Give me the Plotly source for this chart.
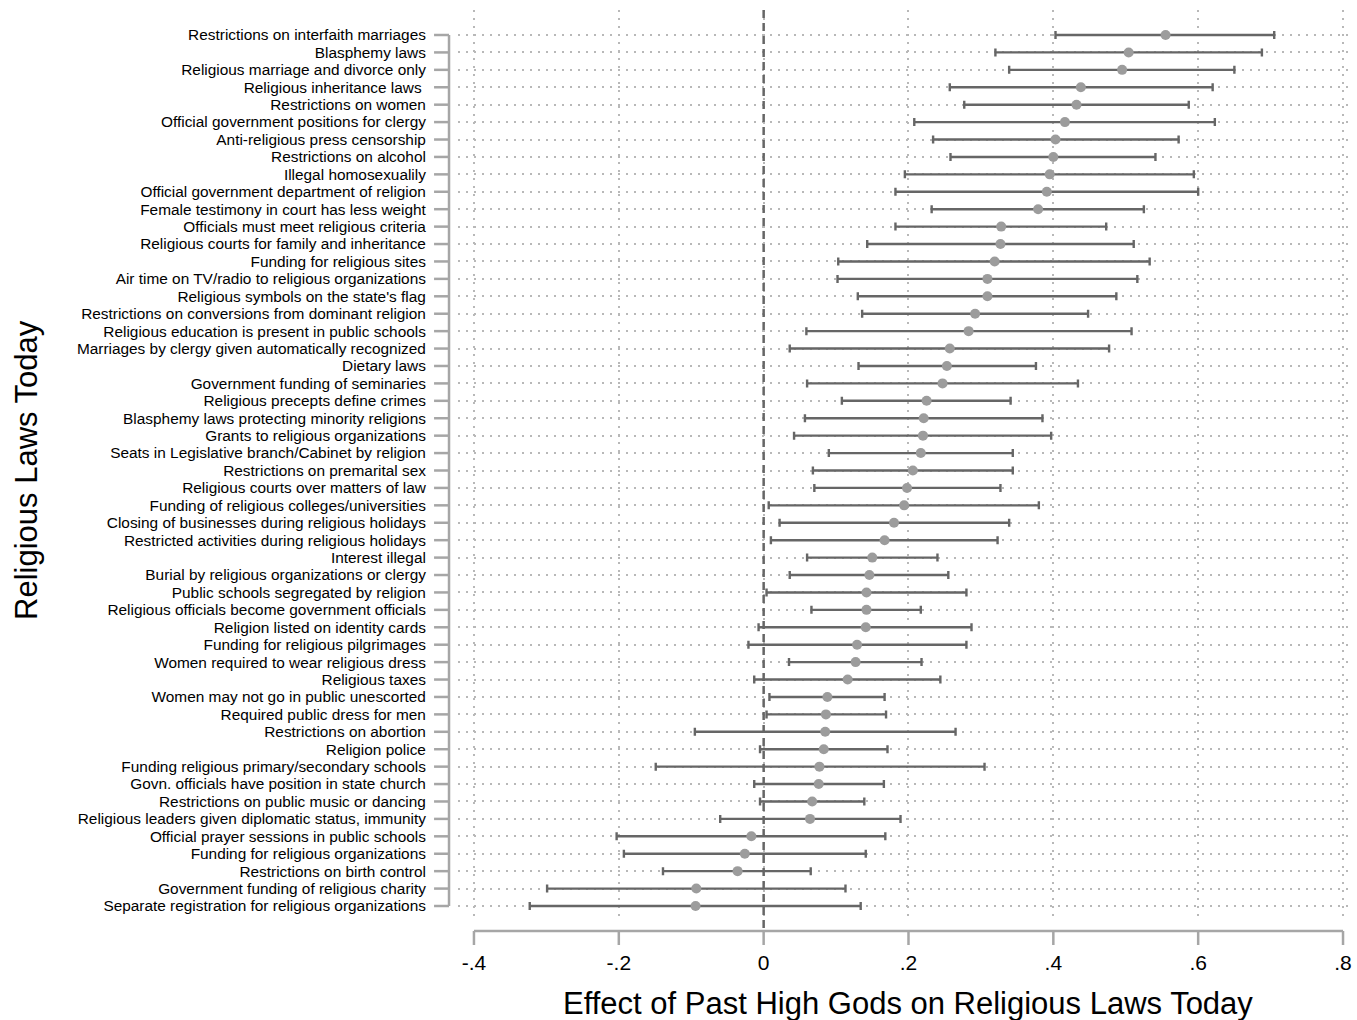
import plotly.graph_objects as go

laws = [
    "Restrictions on interfaith marriages",
    "Blasphemy laws",
    "Religious marriage and divorce only",
    "Religious inheritance laws\u00a0",
    "Restrictions on women",
    "Official government positions for clergy",
    "Anti-religious press censorship",
    "Restrictions on alcohol",
    "Illegal homosexualily",
    "Official government department of religion",
    "Female testimony in court has less weight",
    "Officials must meet religious criteria",
    "Religious courts for family and inheritance",
    "Funding for religious sites",
    "Air time on TV/radio to religious organizations",
    "Religious symbols on the state's flag",
    "Restrictions on conversions from dominant religion",
    "Religious education is present in public schools",
    "Marriages by clergy given automatically recognized",
    "Dietary laws",
    "Government funding of seminaries",
    "Religious precepts define crimes",
    "Blasphemy laws protecting minority religions",
    "Grants to religious organizations",
    "Seats in Legislative branch/Cabinet by religion",
    "Restrictions on premarital sex",
    "Religious courts over matters of law",
    "Funding of religious colleges/universities",
    "Closing of businesses during religious holidays",
    "Restricted activities during religious holidays",
    "Interest illegal",
    "Burial by religious organizations or clergy",
    "Public schools segregated by religion",
    "Religious officials become government officials",
    "Religion listed on identity cards",
    "Funding for religious pilgrimages",
    "Women required to wear religious dress",
    "Religious taxes",
    "Women may not go in public unescorted",
    "Required public dress for men",
    "Restrictions on abortion",
    "Religion police",
    "Funding religious primary/secondary schools",
    "Govn. officials have position in state church",
    "Restrictions on public music or dancing",
    "Religious leaders given diplomatic status, immunity",
    "Official prayer sessions in public schools",
    "Funding for religious organizations",
    "Restrictions on birth control",
    "Government funding of religious charity",
    "Separate registration for religious organizations",
]

estimate = [0.555, 0.504, 0.495, 0.438, 0.432, 0.416, 0.403, 0.400, 0.395, 0.391,
            0.379, 0.328, 0.327, 0.319, 0.309, 0.309, 0.292, 0.283, 0.257, 0.253,
            0.247, 0.225, 0.221, 0.220, 0.217, 0.206, 0.198, 0.194, 0.180, 0.167,
            0.150, 0.146, 0.142, 0.142, 0.141, 0.129, 0.127, 0.116, 0.088, 0.086,
            0.085, 0.083, 0.077, 0.076, 0.067, 0.064, -0.017, -0.026, -0.036, -0.093,
            -0.094]

ci_low = [0.403, 0.320, 0.339, 0.257, 0.277, 0.208, 0.234, 0.258, 0.195, 0.182,
          0.232, 0.182, 0.143, 0.103, 0.102, 0.130, 0.136, 0.059, 0.036, 0.131,
          0.060, 0.108, 0.057, 0.042, 0.090, 0.068, 0.070, 0.007, 0.022, 0.010,
          0.060, 0.036, 0.004, 0.066, -0.007, -0.021, 0.035, -0.013, 0.008, 0.004,
          -0.095, -0.005, -0.149, -0.013, -0.005, -0.060, -0.203, -0.193, -0.139, -0.299,
          -0.323]

ci_high = [0.705, 0.688, 0.650, 0.620, 0.587, 0.623, 0.573, 0.541, 0.594, 0.600,
           0.525, 0.473, 0.511, 0.533, 0.516, 0.487, 0.448, 0.508, 0.477, 0.376,
           0.434, 0.341, 0.385, 0.397, 0.344, 0.344, 0.327, 0.380, 0.339, 0.323,
           0.240, 0.255, 0.280, 0.217, 0.287, 0.280, 0.218, 0.244, 0.167, 0.169,
           0.265, 0.171, 0.305, 0.166, 0.139, 0.189, 0.168, 0.141, 0.065, 0.113,
           0.134]

x_ticks = [-0.4, -0.2, 0, 0.2, 0.4, 0.6, 0.8]
x_tick_labels = ["-.4", "-.2", "0", ".2", ".4", ".6", ".8"]

pos = list(range(1, len(laws) + 1))
err_plus = [h - e for h, e in zip(ci_high, estimate)]
err_minus = [e - l for e, l in zip(estimate, ci_low)]

W, H = 1357, 1020
ML, MR, MT, MB = 458, 5, 10, 98
PW = W - ML - MR
PH = H - MT - MB

FONT = "Liberation Sans, Arial, sans-serif"
AXIS_GRAY = "#a6a6a6"
GRID = "#b8b8b8"

fig = go.Figure()
fig.add_trace(go.Scatter(
    x=estimate, y=pos, mode="markers",
    marker=dict(size=10, color="#9c9c9c", line=dict(width=0)),
    error_x=dict(type="data", symmetric=False, array=err_plus, arrayminus=err_minus,
                 color="#666666", thickness=2.4, width=4),
    showlegend=False, hoverinfo="skip",
))

def px_x(p):
    return (p - ML) / PW

def px_y(p):
    return (H - MB - p) / PH

shapes = []
# y axis line and ticks
yline_x = px_x(449)
shapes.append(dict(type="line", xref="paper", yref="y", x0=yline_x, x1=yline_x,
                   y0=pos[0], y1=pos[-1], line=dict(color=AXIS_GRAY, width=2.5)))
for p in pos:
    shapes.append(dict(type="line", xref="paper", yref="y", x0=px_x(434), x1=yline_x,
                       y0=p, y1=p, line=dict(color=AXIS_GRAY, width=2.5)))
# x axis line and ticks
xline_y = px_y(931)
shapes.append(dict(type="line", xref="x", yref="paper", x0=x_ticks[0], x1=x_ticks[-1],
                   y0=xline_y, y1=xline_y, line=dict(color=AXIS_GRAY, width=2.5)))
for t in x_ticks:
    shapes.append(dict(type="line", xref="x", yref="paper", x0=t, x1=t,
                       y0=xline_y, y1=px_y(945), line=dict(color=AXIS_GRAY, width=2.5)))
# zero reference line
shapes.append(dict(type="line", xref="x", yref="paper", x0=0, x1=0, y0=1, y1=xline_y,
                   line=dict(color="#666666", width=2.5, dash="8px,5px"), layer="above"))

x_lo = x_ticks[0] - 16 / (871 / 1.2)
x_hi = x_ticks[-1] + 7 / (871 / 1.2)
row_px = (906 - 35) / (len(pos) - 1)
y_top = pos[0] - 25 / row_px
y_bot = pos[-1] + 16 / row_px

fig.update_layout(
    width=W, height=H,
    margin=dict(l=ML, r=MR, t=MT, b=MB, pad=0),
    paper_bgcolor="white", plot_bgcolor="white",
    font=dict(family=FONT, color="black"),
    shapes=shapes,
    xaxis=dict(range=[x_lo, x_hi], tickvals=x_ticks, ticktext=x_tick_labels,
               showline=False, zeroline=False, showgrid=True, gridcolor=GRID,
               gridwidth=1.5, griddash="1.5px,6.5px",
               ticks="outside", ticklen=22, tickcolor="rgba(0,0,0,0)",
               tickfont=dict(size=21, family=FONT, color="black")),
    yaxis=dict(range=[y_bot, y_top], tickvals=pos, ticktext=laws,
               showline=False, zeroline=False, showgrid=True, gridcolor=GRID,
               gridwidth=1.5, griddash="1.5px,6.5px",
               ticks="outside", ticklen=28, tickcolor="rgba(0,0,0,0)",
               tickfont=dict(size=15.4, family=FONT, color="black")),
    annotations=[
        dict(text="Effect of Past High Gods on Religious Laws Today", xref="paper", yref="paper",
             x=px_x(909), y=px_y(1003), xanchor="center", yanchor="middle", showarrow=False,
             font=dict(size=31, family=FONT, color="black")),
        dict(text="Religious Laws Today", xref="paper", yref="paper", textangle=-90,
             x=px_x(25), y=px_y(470), xanchor="center", yanchor="middle", showarrow=False,
             font=dict(size=31, family=FONT, color="black")),
    ],
)

fig.write_html("out.html", config={"displayModeBar": False},
               post_script="document.body.style.margin='0px';document.body.style.overflow='hidden';")
